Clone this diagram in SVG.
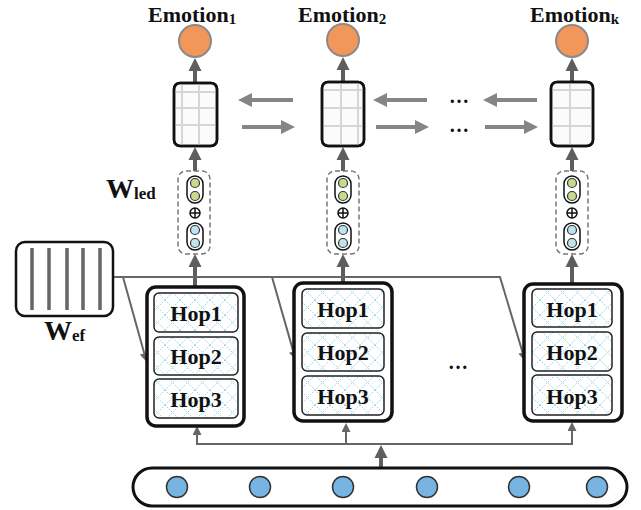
<svg xmlns="http://www.w3.org/2000/svg" width="641" height="510" viewBox="0 0 641 510">
<style>
.lbl{font-family:"Liberation Serif","Times New Roman",serif;font-weight:bold;fill:#111}
.emo{fill:#f2975a;stroke:#8a8a8a;stroke-width:2}
.cell{fill:#fbfbfb;stroke:#111;stroke-width:2.5}
.grid{stroke:#d6d6d6;stroke-width:2}
.dash{fill:#fff;stroke:#777;stroke-width:1.5;stroke-dasharray:5 3}
.pill{fill:#fff;stroke:#111;stroke-width:1.5}
.g{fill:#c6dc8c;stroke:#333;stroke-width:1.2}
.b{fill:#bfe3ef;stroke:#333;stroke-width:1.2}
.outer{fill:#fff;stroke:#111;stroke-width:3.5}
.hop{fill:url(#lattice);stroke:#222;stroke-width:1.5}
.thick{stroke:#5e5e5e;stroke-width:4;fill:none}
.harr{stroke:#858585;stroke-width:4;fill:none}
.thin{stroke:#666;stroke-width:2;fill:none}
</style>
<defs>
<pattern id="lattice" width="15" height="15" patternUnits="userSpaceOnUse">
<rect width="15" height="15" fill="#fff"/>
<path d="M0,0 L15,15 M15,0 L0,15" stroke="#8ad0e2" stroke-width="0.9" stroke-dasharray="1.6 1.3"/>
</pattern>
<marker id="ahT" viewBox="0 0 10 10" refX="0" refY="5" markerWidth="13" markerHeight="15" markerUnits="userSpaceOnUse" orient="auto"><path d="M0,0 L10,5 L0,10 z" fill="#5e5e5e"/></marker>
<marker id="ahH" viewBox="0 0 10 10" refX="0" refY="5" markerWidth="15" markerHeight="14" markerUnits="userSpaceOnUse" orient="auto"><path d="M0,0 L10,5 L0,10 z" fill="#858585"/></marker>
<marker id="ahS" viewBox="0 0 10 10" refX="0" refY="5" markerWidth="10" markerHeight="9" markerUnits="userSpaceOnUse" orient="auto"><path d="M0,0 L10,5 L0,10 z" fill="#666"/></marker>
</defs>

<g id="connectors">
<line class="thick" x1="195" y1="84" x2="195" y2="71" marker-end="url(#ahT)"/>
<line class="thick" x1="343" y1="83" x2="343" y2="70" marker-end="url(#ahT)"/>
<line class="thick" x1="572" y1="83" x2="572" y2="71" marker-end="url(#ahT)"/>
<line class="thick" x1="195" y1="171" x2="195" y2="160" marker-end="url(#ahT)"/>
<line class="thick" x1="343" y1="171" x2="343" y2="160" marker-end="url(#ahT)"/>
<line class="thick" x1="572" y1="171" x2="572" y2="160" marker-end="url(#ahT)"/>
<line class="thick" x1="195" y1="287" x2="195" y2="267" marker-end="url(#ahT)"/>
<line class="thick" x1="343" y1="283" x2="343" y2="267" marker-end="url(#ahT)"/>
<line class="thick" x1="572" y1="284" x2="572" y2="267" marker-end="url(#ahT)"/>
<line class="harr" x1="293" y1="100" x2="252" y2="100" marker-end="url(#ahH)"/>
<line class="harr" x1="242" y1="127" x2="281" y2="127" marker-end="url(#ahH)"/>
<line class="harr" x1="427" y1="100" x2="387" y2="100" marker-end="url(#ahH)"/>
<line class="harr" x1="376" y1="127" x2="415" y2="127" marker-end="url(#ahH)"/>
<line class="harr" x1="537" y1="100" x2="497" y2="100" marker-end="url(#ahH)"/>
<line class="harr" x1="485" y1="127" x2="524" y2="127" marker-end="url(#ahH)"/>
<polyline class="thin" points="113,277 500,277 522.6,352.4" marker-end="url(#ahS)"/>
<line class="thin" x1="123" y1="277" x2="144.3" y2="353.4" marker-end="url(#ahS)"/>
<line class="thin" x1="272" y1="277" x2="293.3" y2="351.4" marker-end="url(#ahS)"/>
<line class="thick" x1="381" y1="468" x2="381" y2="458" marker-end="url(#ahT)"/>
<polyline class="thin" points="197,435 197,444 572,444 572,435"/>
<line class="thin" x1="197" y1="436" x2="197" y2="435" marker-end="url(#ahS)"/>
<line class="thin" x1="346" y1="444" x2="346" y2="432" marker-end="url(#ahS)"/>
<line class="thin" x1="572" y1="436" x2="572" y2="431" marker-end="url(#ahS)"/>
</g>

<g id="emotion1">
<circle class="emo" cx="195" cy="41" r="16"/>
<text class="lbl" x="148" y="22" font-size="22">Emotion<tspan font-size="15" dy="2">1</tspan></text>
</g>
<g id="emotion2">
<circle class="emo" cx="343" cy="40" r="16"/>
<text class="lbl" x="298" y="22" font-size="22">Emotion<tspan font-size="15" dy="2">2</tspan></text>
</g>
<g id="emotionk">
<circle class="emo" cx="572" cy="41" r="16"/>
<text class="lbl" x="530" y="22" font-size="22">Emotion<tspan font-size="15" dy="2">k</tspan></text>
</g>

<g id="cell1">
<rect class="cell" x="174" y="83" width="43" height="63" rx="6"/>
<path class="grid" d="M182,84.5V144.5 M199,84.5V144.5 M175.5,92H215.5 M175.5,108H215.5 M175.5,125H215.5"/>
<rect x="174" y="83" width="43" height="63" rx="6" fill="none" stroke="#111" stroke-width="2.5"/>
</g>
<g id="cell2">
<rect class="cell" x="322" y="82" width="42" height="64" rx="6"/>
<path class="grid" d="M341,83.5V144.5 M358,83.5V144.5 M323.5,90H362.5 M323.5,108H362.5 M323.5,126H362.5"/>
<rect x="322" y="82" width="42" height="64" rx="6" fill="none" stroke="#111" stroke-width="2.5"/>
</g>
<g id="cellk">
<rect class="cell" x="551" y="82" width="42" height="64" rx="6"/>
<path class="grid" d="M570,83.5V144.5 M552.5,90H591.5 M552.5,108H591.5 M552.5,126H591.5"/>
<rect x="551" y="82" width="42" height="64" rx="6" fill="none" stroke="#111" stroke-width="2.5"/>
</g>

<g id="dots-top">
<text class="lbl" x="459" y="103" font-size="20" text-anchor="middle">…</text>
<text class="lbl" x="459" y="132" font-size="20" text-anchor="middle">…</text>
</g>

<g id="wled1">
<rect class="dash" x="178" y="171" width="32" height="83" rx="8"/>
<rect class="pill" x="187" y="176" width="16" height="27" rx="8"/>
<circle class="g" cx="195" cy="183" r="4.5"/><circle class="g" cx="195" cy="196" r="4.5"/>
<circle cx="195" cy="213" r="5" fill="#fff" stroke="#111" stroke-width="1.5"/>
<path d="M190,213H200M195,208V218" stroke="#111" stroke-width="1.5"/>
<rect class="pill" x="187" y="223" width="16" height="27" rx="8"/>
<circle class="b" cx="195" cy="230" r="4.5"/><circle class="b" cx="195" cy="243" r="4.5"/>
</g>
<g id="wled2">
<rect class="dash" x="327" y="171" width="32" height="83" rx="8"/>
<rect class="pill" x="335" y="176" width="16" height="27" rx="8"/>
<circle class="g" cx="343" cy="183" r="4.5"/><circle class="g" cx="343" cy="196" r="4.5"/>
<circle cx="343" cy="213" r="5" fill="#fff" stroke="#111" stroke-width="1.5"/>
<path d="M338,213H348M343,208V218" stroke="#111" stroke-width="1.5"/>
<rect class="pill" x="335" y="223" width="16" height="27" rx="8"/>
<circle class="b" cx="343" cy="230" r="4.5"/><circle class="b" cx="343" cy="243" r="4.5"/>
</g>
<g id="wledk">
<rect class="dash" x="556" y="171" width="32" height="83" rx="8"/>
<rect class="pill" x="564" y="176" width="16" height="27" rx="8"/>
<circle class="g" cx="572" cy="183" r="4.5"/><circle class="g" cx="572" cy="196" r="4.5"/>
<circle cx="572" cy="213" r="5" fill="#fff" stroke="#111" stroke-width="1.5"/>
<path d="M567,213H577M572,208V218" stroke="#111" stroke-width="1.5"/>
<rect class="pill" x="564" y="223" width="16" height="27" rx="8"/>
<circle class="b" cx="572" cy="230" r="4.5"/><circle class="b" cx="572" cy="243" r="4.5"/>
</g>
<g id="wled-label">
<text class="lbl" x="106" y="198" font-size="28">W<tspan font-size="17" dy="1">led</tspan></text>
</g>

<g id="wef">
<rect x="16" y="242" width="97" height="74" rx="9" fill="#fff" stroke="#111" stroke-width="2.5"/>
<path d="M32,248V310 M49,248V310 M67,248V310 M83,248V310 M100,248V310" stroke="#666" stroke-width="3.5"/>
<text class="lbl" x="44" y="340" font-size="28">W<tspan font-size="17" dy="1">ef</tspan></text>
</g>

<g id="hops1">
<rect class="outer" x="147" y="287" width="97" height="139" rx="9"/>
<rect class="hop" x="154" y="293" width="84" height="39" rx="5"/>
<rect class="hop" x="154" y="337" width="84" height="38" rx="5"/>
<rect class="hop" x="154" y="379" width="84" height="39" rx="5"/>
<text class="lbl" x="196" y="321" font-size="22" text-anchor="middle">Hop1</text>
<text class="lbl" x="196" y="364" font-size="22" text-anchor="middle">Hop2</text>
<text class="lbl" x="196" y="407" font-size="22" text-anchor="middle">Hop3</text>
</g>
<g id="hops2">
<rect class="outer" x="294" y="283" width="98" height="138" rx="9"/>
<rect class="hop" x="302" y="289" width="82" height="39" rx="5"/>
<rect class="hop" x="302" y="333" width="82" height="38" rx="5"/>
<rect class="hop" x="302" y="376" width="82" height="39" rx="5"/>
<text class="lbl" x="343" y="317" font-size="22" text-anchor="middle">Hop1</text>
<text class="lbl" x="343" y="360" font-size="22" text-anchor="middle">Hop2</text>
<text class="lbl" x="343" y="404" font-size="22" text-anchor="middle">Hop3</text>
</g>
<g id="hopsk">
<rect class="outer" x="524" y="284" width="98" height="137" rx="9"/>
<rect class="hop" x="532" y="289" width="80" height="38" rx="5"/>
<rect class="hop" x="532" y="332" width="80" height="39" rx="5"/>
<rect class="hop" x="532" y="375" width="80" height="40" rx="5"/>
<text class="lbl" x="572" y="317" font-size="22" text-anchor="middle">Hop1</text>
<text class="lbl" x="572" y="360" font-size="22" text-anchor="middle">Hop2</text>
<text class="lbl" x="572" y="404" font-size="22" text-anchor="middle">Hop3</text>
</g>
<g id="dots-mid">
<text class="lbl" x="458" y="369" font-size="20" text-anchor="middle">…</text>
</g>

<g id="input">
<rect x="133" y="468" width="494" height="38" rx="19" fill="#fff" stroke="#111" stroke-width="3"/>
<circle cx="177" cy="487" r="10.5" fill="#78b4e2" stroke="#333" stroke-width="1.5"/>
<circle cx="260" cy="487" r="10.5" fill="#78b4e2" stroke="#333" stroke-width="1.5"/>
<circle cx="343" cy="487" r="10.5" fill="#78b4e2" stroke="#333" stroke-width="1.5"/>
<circle cx="427" cy="487" r="10.5" fill="#78b4e2" stroke="#333" stroke-width="1.5"/>
<circle cx="519" cy="487" r="10.5" fill="#78b4e2" stroke="#333" stroke-width="1.5"/>
<circle cx="597" cy="487" r="10.5" fill="#78b4e2" stroke="#333" stroke-width="1.5"/>
</g>
</svg>
